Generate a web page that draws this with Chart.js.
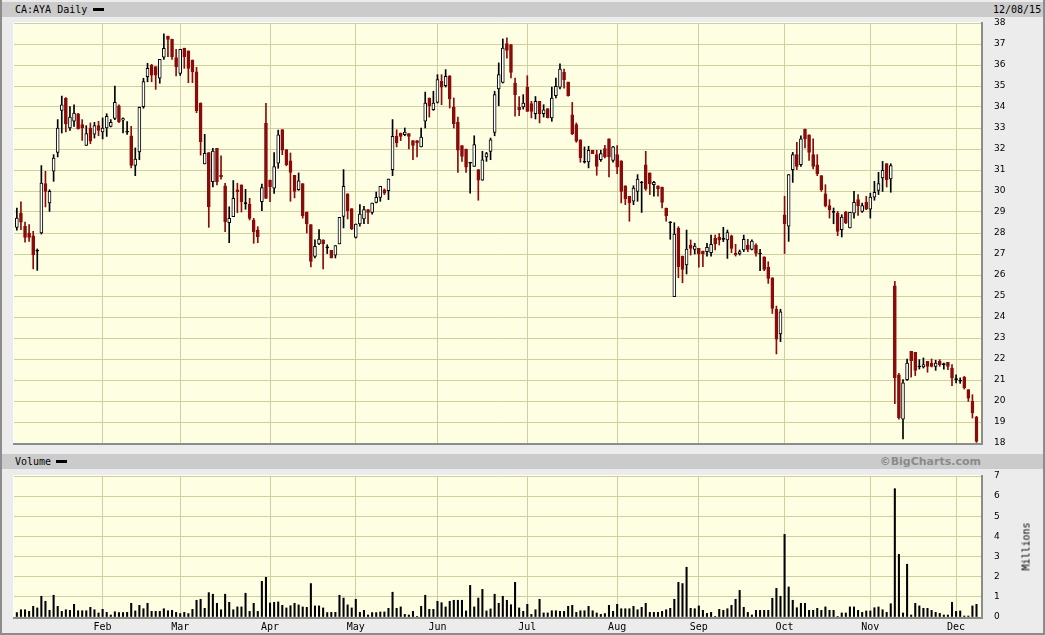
<!DOCTYPE html>
<html>
<head>
<meta charset="utf-8">
<script src="https://cdn.jsdelivr.net/npm/chart.js@4.4.0/dist/chart.umd.min.js"></script>
<style>
    body { margin: 0; background: #ffffff; }
    #wrap { position: relative; width: 1045px; height: 635px; background: #ececec; overflow: hidden; }
    .band { position: absolute; left: 2px; width: 1041px; height: 15px; background: #cbcbcb; }
    .mono { position: absolute; font-family: 'DejaVu Sans Mono', monospace; font-size: 10px; color: #000; line-height: 15px; }
    .swatch { position: absolute; width: 11px; height: 3px; background: #000; }
    canvas { position: absolute; left: 0; }
    #millions { position: absolute; left: 1001px; top: 541px; width: 50px; text-align: center;
                transform: rotate(-90deg); font-family: 'DejaVu Sans Mono', monospace; font-size: 10px; }
    .edge { position: absolute; background: #8c8c8c; }
</style>
</head>
<body>
<div id="wrap">
    <div class="band" style="top:2px"></div>
    <div class="mono" style="left:15px;top:2px">CA:AYA Daily</div>
    <div class="swatch" style="left:93px;top:8px"></div>
    <div class="mono" style="left:993px;top:2px">12/08/15</div>

    <div class="band" style="top:454px"></div>
    <div class="mono" style="left:15px;top:454px">Volume</div>
    <div class="swatch" style="left:56px;top:460px"></div>
    <div style="position:absolute;left:840px;top:454px;width:141px;text-align:right;font:bold 11px 'DejaVu Sans',sans-serif;color:#8a8a8a;line-height:15px">©BigCharts.com</div>

    <canvas id="priceCanvas" width="1045" height="450" style="top:0"></canvas>
    <canvas id="volCanvas" width="1045" height="165" style="top:470px"></canvas>
    <div id="millions">Millions</div>

    <div class="edge" style="left:0;top:0;width:2px;height:635px"></div>
    <div class="edge" style="right:0;top:0;width:2px;height:635px"></div>
    <div class="edge" style="left:0;bottom:0;width:1045px;height:2px"></div>
</div>
<script>
// daily candles, first trading day of 2015 to 12/08/15
const opens = [
    28.27, 28.95, 28.32, 28.00, 27.87, 27.13, 28.00, 30.35, 29.43, 30.94,
    31.84, 33.84, 34.41, 33.00, 33.32, 33.68, 33.16, 32.17, 33.00, 32.71,
    33.11, 32.81, 33.00, 33.08, 33.46, 34.05, 33.37, 32.80, 32.63, 31.22,
    31.86, 34.02, 35.44, 36.00, 35.92, 35.37, 36.37, 37.38, 37.22, 36.35,
    35.60, 36.80, 36.67, 36.24, 35.68, 34.17, 31.29, 31.83, 30.44, 32.03,
    30.75, 30.25, 28.49, 28.78, 30.05, 30.29, 29.40, 29.38, 28.62, 28.14,
    29.49, 33.22, 30.52, 30.13, 31.32, 32.92, 31.97, 31.44, 30.75, 30.06,
    30.35, 29.00, 28.40, 26.89, 27.48, 27.68, 27.29, 27.17, 26.95, 27.48,
    28.79, 29.87, 29.16, 27.79, 28.43, 28.67, 29.11, 28.98, 29.46, 29.70,
    30.06, 30.02, 31.02, 32.60, 32.76, 32.68, 32.73, 32.40, 32.40, 32.10,
    33.32, 34.43, 33.87, 34.22, 35.22, 35.02, 35.49, 34.00, 33.27, 32.16,
    32.00, 31.33, 31.17, 31.02, 30.51, 31.62, 31.89, 32.79, 34.86, 35.17,
    37.02, 36.97, 35.14, 33.98, 34.00, 34.95, 34.16, 33.68, 34.27, 33.68,
    33.92, 33.48, 34.54, 34.95, 35.65, 35.19, 33.63, 33.16, 32.44, 31.37,
    31.38, 31.94, 31.73, 31.49, 32.02, 32.49, 31.46, 31.73, 31.44, 30.25,
    29.75, 29.51, 29.98, 30.38, 31.25, 30.86, 30.30, 30.25, 30.19, 29.19,
    28.49, 24.97, 28.22, 26.90, 26.48, 27.43, 27.22, 27.27, 27.14, 27.11,
    27.06, 27.75, 27.79, 27.70, 27.67, 27.86, 27.03, 27.00, 27.19, 27.43,
    27.22, 27.43, 27.00, 26.87, 26.37, 25.87, 24.37, 23.19, 28.87, 28.32,
    31.02, 31.73, 31.25, 32.95, 32.68, 31.73, 31.25, 30.73, 29.87, 29.30,
    28.98, 28.95, 28.16, 29.00, 28.24, 28.95, 29.59, 29.03, 29.46, 29.14,
    29.71, 30.03, 30.62, 31.30, 30.57, 25.49, 21.25, 19.14, 21.02, 22.37,
    22.32, 21.62, 21.62, 21.89, 21.81, 21.65, 21.89, 21.73, 21.84, 21.57,
    21.02, 20.94, 21.14, 20.54, 19.98, 19.24
];
const highs = [
    29.19, 29.48, 28.52, 28.40, 28.08, 27.24, 31.21, 30.94, 30.06, 31.73,
    33.40, 34.52, 34.45, 34.02, 34.10, 33.70, 33.40, 33.11, 33.24, 33.27,
    33.32, 33.48, 33.68, 33.40, 35.00, 34.10, 33.48, 33.30, 33.08, 32.05,
    34.00, 35.37, 36.08, 36.03, 35.92, 36.27, 37.48, 37.38, 37.24, 36.75,
    36.75, 36.80, 36.67, 36.24, 35.89, 34.20, 32.70, 31.83, 32.03, 32.03,
    31.67, 30.37, 29.25, 30.50, 30.37, 30.29, 30.08, 29.65, 28.70, 28.30,
    30.33, 34.17, 30.52, 31.83, 32.90, 32.92, 31.97, 31.81, 30.75, 30.86,
    30.35, 29.00, 28.40, 27.68, 28.16, 27.68, 27.44, 27.17, 27.40, 28.75,
    31.02, 29.87, 29.16, 28.43, 29.35, 29.27, 29.11, 29.43, 29.95, 30.22,
    30.10, 30.57, 33.40, 32.92, 32.76, 33.00, 32.73, 32.40, 32.40, 33.00,
    34.71, 34.43, 34.75, 35.54, 35.54, 35.78, 35.49, 34.43, 33.52, 32.16,
    32.00, 31.33, 32.63, 31.02, 31.89, 31.84, 32.52, 34.75, 36.10, 37.24,
    37.29, 36.97, 35.38, 34.50, 34.59, 35.49, 34.27, 34.50, 34.27, 34.11,
    33.92, 34.95, 35.38, 36.06, 35.81, 35.19, 34.22, 33.24, 32.44, 32.10,
    32.13, 31.94, 31.94, 31.94, 32.17, 32.49, 32.13, 32.16, 31.44, 30.25,
    29.75, 30.25, 30.78, 30.46, 31.89, 30.86, 30.46, 30.25, 30.19, 29.19,
    28.54, 28.49, 28.30, 26.90, 28.14, 27.67, 27.51, 27.27, 27.14, 27.51,
    27.90, 27.90, 27.98, 28.27, 28.14, 27.90, 27.46, 27.19, 27.90, 27.70,
    27.67, 27.48, 27.22, 26.87, 26.63, 25.87, 24.52, 24.37, 29.75, 30.78,
    31.84, 32.32, 32.63, 32.95, 32.68, 32.48, 31.73, 30.73, 30.30, 29.59,
    29.19, 29.03, 28.87, 29.03, 28.98, 29.98, 29.83, 29.43, 29.75, 29.90,
    30.46, 30.89, 31.41, 31.30, 31.30, 25.70, 21.32, 21.02, 22.00, 22.37,
    22.32, 21.97, 22.05, 21.89, 22.00, 21.94, 21.97, 21.81, 21.84, 21.73,
    21.25, 21.10, 21.17, 20.54, 20.30, 19.27
];
const lows = [
    28.13, 28.16, 27.56, 27.60, 26.29, 26.22, 27.95, 29.24, 29.03, 30.46,
    31.62, 32.76, 32.81, 32.89, 33.08, 32.95, 32.41, 32.17, 32.25, 32.52,
    32.63, 32.48, 32.60, 33.05, 33.40, 33.25, 32.76, 32.70, 31.10, 30.73,
    31.49, 33.94, 35.20, 35.20, 34.84, 35.13, 36.27, 36.40, 36.27, 35.48,
    35.50, 35.84, 35.16, 35.16, 33.73, 31.71, 31.29, 28.27, 30.20, 30.29,
    30.56, 28.06, 27.54, 28.78, 28.97, 29.00, 29.13, 28.62, 27.51, 27.54,
    29.06, 29.65, 29.49, 29.89, 31.08, 31.73, 31.20, 29.51, 29.67, 30.03,
    28.71, 28.00, 26.38, 26.81, 27.44, 26.29, 27.02, 26.81, 26.81, 27.48,
    28.24, 28.67, 28.16, 27.76, 28.32, 28.44, 28.44, 28.90, 29.43, 29.51,
    29.83, 29.59, 30.73, 32.10, 32.40, 32.63, 32.00, 31.49, 31.62, 32.10,
    33.00, 33.52, 33.84, 34.19, 34.11, 34.95, 33.95, 33.00, 30.89, 31.41,
    30.89, 29.90, 31.17, 29.56, 30.51, 31.41, 31.49, 32.63, 34.06, 35.14,
    36.33, 35.38, 33.56, 33.59, 33.90, 33.79, 33.48, 33.43, 33.24, 33.52,
    33.48, 33.32, 34.43, 34.86, 34.90, 34.51, 32.68, 32.32, 31.37, 31.33,
    31.10, 31.78, 30.75, 31.41, 31.57, 30.67, 31.37, 30.83, 29.43, 29.35,
    28.56, 29.35, 29.51, 28.98, 30.03, 29.83, 29.75, 29.75, 29.19, 28.56,
    27.70, 24.97, 25.87, 25.63, 26.05, 26.95, 27.00, 26.37, 26.40, 26.90,
    26.90, 27.19, 27.43, 27.59, 26.79, 27.06, 26.90, 26.95, 27.11, 27.11,
    27.19, 26.90, 26.21, 26.21, 25.60, 24.17, 22.24, 22.83, 27.02, 27.60,
    30.41, 31.02, 31.17, 32.05, 31.46, 31.05, 30.73, 29.98, 29.24, 28.71,
    28.44, 27.87, 27.81, 28.44, 28.24, 28.71, 28.84, 28.98, 29.11, 28.71,
    29.56, 29.83, 29.98, 30.19, 29.94, 19.87, 19.14, 18.19, 20.98, 21.14,
    21.21, 21.52, 21.57, 21.37, 21.62, 21.46, 21.65, 21.52, 21.49, 20.73,
    20.86, 20.84, 20.57, 19.98, 19.19, 18.03
];
const closes = [
    28.71, 28.51, 27.79, 27.79, 26.97, 27.13, 30.38, 29.98, 29.98, 31.57,
    33.00, 34.10, 33.19, 33.52, 33.71, 32.97, 33.00, 32.73, 32.37, 33.11,
    32.89, 33.00, 33.56, 33.27, 34.22, 33.30, 33.45, 32.80, 31.22, 31.52,
    33.98, 35.21, 35.84, 35.52, 35.52, 36.27, 36.79, 37.22, 36.40, 35.92,
    36.75, 36.40, 35.84, 35.68, 33.83, 32.35, 31.79, 29.25, 31.90, 30.44,
    30.68, 28.54, 28.70, 29.65, 29.97, 29.49, 29.40, 28.70, 28.06, 27.83,
    30.16, 29.65, 30.21, 31.16, 32.67, 31.94, 31.25, 30.89, 29.98, 30.49,
    28.83, 28.43, 26.65, 27.37, 27.71, 27.48, 27.29, 26.81, 27.40, 28.75,
    30.22, 29.06, 28.19, 28.43, 28.90, 29.11, 28.98, 29.43, 29.70, 30.22,
    29.90, 30.57, 32.60, 32.29, 32.60, 32.81, 32.60, 32.17, 32.29, 32.57,
    34.19, 34.06, 34.19, 35.30, 34.95, 35.46, 34.38, 33.21, 31.94, 31.65,
    31.14, 31.33, 32.21, 30.51, 31.49, 31.78, 32.44, 34.59, 35.54, 36.81,
    36.70, 35.65, 34.59, 33.87, 34.19, 33.79, 33.79, 34.27, 33.68, 33.87,
    33.48, 34.43, 34.98, 35.81, 35.30, 34.54, 32.73, 32.37, 31.57, 31.37,
    31.94, 31.78, 31.17, 31.78, 31.62, 31.62, 32.10, 31.14, 29.98, 29.62,
    29.43, 30.14, 30.57, 30.38, 30.10, 30.35, 30.41, 30.10, 29.46, 28.83,
    28.49, 27.95, 26.40, 26.27, 27.24, 27.27, 27.38, 27.00, 27.00, 27.32,
    27.46, 27.48, 27.67, 27.70, 28.02, 27.27, 26.97, 27.11, 27.70, 27.22,
    27.62, 27.03, 27.00, 26.27, 25.84, 24.41, 22.94, 24.25, 28.44, 30.78,
    31.73, 31.17, 32.48, 32.48, 31.84, 31.17, 30.83, 30.06, 29.30, 29.11,
    28.98, 28.08, 28.76, 28.48, 28.98, 29.46, 29.30, 29.30, 29.14, 29.71,
    29.94, 30.35, 30.98, 30.54, 31.21, 21.10, 19.19, 20.86, 21.81, 21.92,
    21.46, 21.62, 21.73, 21.65, 21.65, 21.81, 21.73, 21.73, 21.65, 21.10,
    21.02, 20.94, 20.62, 20.14, 19.43, 18.08
];
// millions of shares
const volumes = [
    0.22, 0.36, 0.36, 0.28, 0.53, 0.45, 1.03, 0.78, 0.33, 1.08,
    0.53, 0.28, 0.36, 0.33, 0.63, 0.31, 0.31, 0.31, 0.48, 0.36,
    0.20, 0.38, 0.23, 0.10, 0.26, 0.22, 0.22, 0.23, 0.68, 0.30,
    0.58, 0.41, 0.68, 0.28, 0.28, 0.28, 0.41, 0.31, 0.33, 0.23,
    0.17, 0.23, 0.17, 0.38, 0.83, 0.88, 0.43, 1.21, 1.13, 0.68,
    0.36, 1.13, 0.73, 0.36, 0.50, 0.50, 1.18, 0.28, 0.68, 0.28,
    1.77, 1.97, 0.70, 0.73, 0.75, 0.58, 0.45, 0.56, 0.68, 0.60,
    0.50, 0.48, 1.66, 0.55, 0.55, 0.45, 0.22, 0.23, 0.23, 1.08,
    0.94, 0.60, 0.45, 0.88, 0.23, 0.33, 0.10, 0.22, 0.22, 0.25,
    0.25, 0.43, 1.23, 0.43, 0.50, 0.13, 0.10, 0.28, 0.03, 0.53,
    1.08, 0.38, 0.38, 0.78, 0.71, 0.50, 0.78, 0.83, 0.83, 0.83,
    0.30, 1.57, 0.50, 0.94, 1.37, 0.30, 0.40, 1.13, 0.68, 1.03,
    0.83, 0.61, 1.72, 0.45, 0.28, 0.63, 0.13, 0.36, 0.88, 0.20,
    0.20, 0.31, 0.31, 0.28, 0.28, 0.53, 0.58, 0.23, 0.31, 0.31,
    0.53, 0.31, 0.20, 0.13, 0.17, 0.58, 0.28, 0.63, 0.41, 0.41,
    0.41, 0.53, 0.36, 0.48, 0.68, 0.23, 0.23, 0.23, 0.28, 0.36,
    0.43, 0.88, 1.72, 1.66, 2.47, 0.43, 0.41, 0.55, 0.33, 0.18,
    0.23, 0.03, 0.38, 0.33, 0.41, 0.58, 0.88, 1.32, 0.48, 0.23,
    0.10, 0.33, 0.33, 0.33, 0.33, 0.93, 1.42, 1.03, 4.10, 1.49,
    0.83, 0.46, 0.68, 0.68, 0.33, 0.33, 0.43, 0.33, 0.50, 0.33,
    0.33, 0.02, 0.20, 0.20, 0.50, 0.50, 0.33, 0.23, 0.30, 0.30,
    0.46, 0.50, 0.36, 0.23, 0.66, 6.37, 3.11, 0.20, 2.62, 0.10,
    0.68, 0.55, 0.43, 0.43, 0.33, 0.23, 0.18, 0.10, 0.10, 0.73,
    0.28, 0.30, 0.05, 0.05, 0.55, 0.63
];
// first trading day of each month (index into the arrays above)
const monthLabels = ['Feb', 'Mar', 'Apr', 'May', 'Jun', 'Jul', 'Aug', 'Sep', 'Oct', 'Nov', 'Dec'];
const monthStarts = [21, 40, 62, 83, 103, 125, 147, 167, 188, 209, 230];

const plotColor = '#fefee2';
const gridColor = '#d0d09e';
const downColor = '#8b0b0b';
const xMin = -0.7;
const xMax = 236.1;

const days = closes.map((c, i) => i);

function isUp(i) { return closes[i] > opens[i]; }
function isDown(i) { return closes[i] < opens[i]; }

// cream plot area and a shaded frame, like the original
const framePlugin = {
    id: 'frame',
    beforeDraw(chart) {
        const { ctx, chartArea: a } = chart;
        ctx.save();
        ctx.fillStyle = plotColor;
        ctx.fillRect(a.left, a.top, a.right - a.left, a.bottom - a.top);
        ctx.restore();
    },
    afterDraw(chart) {
        const { ctx, chartArea: a } = chart;
        ctx.save();
        ctx.lineWidth = 1;
        ctx.strokeStyle = '#ffffff';
        ctx.beginPath();
        ctx.moveTo(a.left - 0.5, a.bottom);
        ctx.lineTo(a.left - 0.5, a.top - 0.5);
        ctx.lineTo(a.right, a.top - 0.5);
        ctx.stroke();
        ctx.lineWidth = 2;
        ctx.strokeStyle = '#8c8c8c';
        ctx.beginPath();
        ctx.moveTo(a.left - 1, a.bottom + 1);
        ctx.lineTo(a.right + 1, a.bottom + 1);
        ctx.lineTo(a.right + 1, a.top - 1);
        ctx.stroke();
        ctx.restore();
    }
};

function monthGrid() {
    return {
        color: gridColor,
        lineWidth: 1,
        drawTicks: false,
        offset: false
    };
}

// right-hand value axis; the gap to the labels comes from an invisible tick,
// because tick padding would also push the plot edges in
function valueAxis(min, max) {
    return {
        position: 'right',
        min: min,
        max: max,
        afterFit: (scale) => { scale.width = 64; },
        ticks: {
            stepSize: 1,
            padding: 0,
            color: '#000',
            font: { family: 'DejaVu Sans', size: 9 }
        },
        grid: { color: gridColor, drawTicks: true, tickLength: 13, tickColor: 'rgba(0,0,0,0)' },
        border: { display: false }
    };
}

function drawPriceChart() {
    const ctx = document.getElementById('priceCanvas').getContext('2d');
    new Chart(ctx, {
        type: 'bar',
        data: {
            datasets: [
                {
                    label: 'body',
                    order: 0,
                    data: days.map(i => ({ x: i, y: [opens[i], closes[i]] })),
                    backgroundColor: days.map(i => isUp(i) ? '#ffffff' : (isDown(i) ? downColor : '#000000')),
                    borderColor: days.map(i => isDown(i) ? downColor : '#000000'),
                    borderWidth: 1,
                    borderSkipped: false,
                    barThickness: 3,
                    minBarLength: 1
                },
                {
                    label: 'wick',
                    order: 1,
                    data: days.map(i => ({ x: i, y: [lows[i], highs[i]] })),
                    backgroundColor: days.map(i => isDown(i) ? downColor : '#000000'),
                    borderWidth: 0,
                    barThickness: 1
                }
            ]
        },
        options: {
            responsive: false,
            animation: false,
            devicePixelRatio: 1,
            layout: { padding: { left: 14, top: 23, right: 0, bottom: 7 } },
            datasets: { bar: { grouped: false } },
            plugins: { legend: { display: false }, tooltip: { enabled: false } },
            scales: {
                x: {
                    type: 'linear',
                    min: xMin,
                    max: xMax,
                    offset: false,
                    afterBuildTicks: (scale) => { scale.ticks = monthStarts.map(v => ({ value: v })); },
                    afterFit: (scale) => { scale.height = 0; },
                    ticks: { display: false },
                    grid: monthGrid(),
                    border: { display: false }
                },
                y: valueAxis(18, 38)
            }
        },
        plugins: [framePlugin]
    });
}

function drawVolumeChart() {
    const ctx = document.getElementById('volCanvas').getContext('2d');
    new Chart(ctx, {
        type: 'bar',
        data: {
            datasets: [
                {
                    label: 'Volume',
                    data: days.map(i => ({ x: i, y: volumes[i] })),
                    backgroundColor: '#000000',
                    borderWidth: 0,
                    barThickness: 1.4
                }
            ]
        },
        options: {
            responsive: false,
            animation: false,
            devicePixelRatio: 1,
            layout: { padding: { left: 14, top: 6, right: 0, bottom: 0 } },
            plugins: { legend: { display: false }, tooltip: { enabled: false } },
            scales: {
                x: {
                    type: 'linear',
                    min: xMin,
                    max: xMax,
                    offset: false,
                    afterBuildTicks: (scale) => { scale.ticks = monthStarts.map(v => ({ value: v })); },
                    afterFit: (scale) => { scale.height = 18; },
                    ticks: {
                        autoSkip: false,
                        maxRotation: 0,
                        padding: 4,
                        color: '#000',
                        font: { family: 'DejaVu Sans Mono', size: 10 },
                        callback: (v) => monthLabels[monthStarts.indexOf(v)]
                    },
                    grid: monthGrid(),
                    border: { display: false }
                },
                y: valueAxis(0, 7)
            }
        },
        plugins: [framePlugin]
    });
}

drawPriceChart();
drawVolumeChart();
</script>
</body>
</html>
